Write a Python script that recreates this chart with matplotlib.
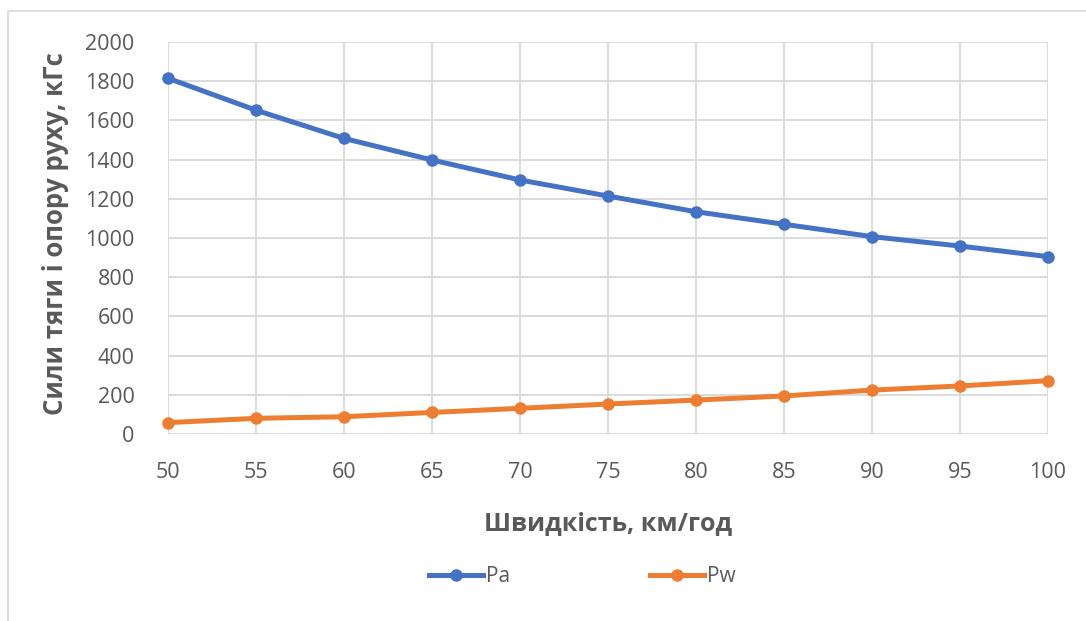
import matplotlib
matplotlib.use("Agg")
import matplotlib.pyplot as plt
from matplotlib.patches import Rectangle

# Speed, km/h
speed = [50, 55, 60, 65, 70, 75, 80, 85, 90, 95, 100]
# Traction force Pa, kgf
pa = [1815, 1652, 1508, 1398, 1296, 1214, 1134, 1070, 1007, 959, 905]
# Resistance force Pw, kgf
pw = [58, 80, 88, 110, 131, 153, 173, 194, 224, 245, 272]

y_ticks = [0, 200, 400, 600, 800, 1000, 1200, 1400, 1600, 1800, 2000]
x_ticks = speed

text_color = "#595959"
grid_color = "#D9D9D9"
blue = "#4472C4"
orange = "#ED7D31"

plt.rcParams["font.family"] = ["Open Sans", "DejaVu Sans"]

fig = plt.figure(figsize=(10.86, 6.21), dpi=100)
fig.patch.set_facecolor("white")

# chart frame
fig.add_artist(Rectangle((8 / 1086, -0.1), 1.2, 1 - 11 / 621 + 0.1,
                         transform=fig.transFigure, fill=False,
                         edgecolor="#D9D9D9", linewidth=1.2))

ax = fig.add_axes([168 / 1086, 1 - 434 / 621, (1048 - 168) / 1086, (434 - 42) / 621])
ax.set_xlim(50, 100)
ax.set_ylim(0, 2000)
ax.set_xticks(x_ticks)
ax.set_yticks(y_ticks)
ax.grid(True, color=grid_color, linewidth=1.3)
ax.set_axisbelow(True)
for s in ax.spines.values():
    s.set_visible(False)
ax.tick_params(length=0, colors=text_color, labelsize=15.5)
ax.tick_params(axis="x", pad=20)
ax.tick_params(axis="y", pad=24)

ax.plot(speed, pa, color=blue, linewidth=3.6, marker="o", markersize=8,
        label="Pa", clip_on=False, zorder=3)
ax.plot(speed, pw, color=orange, linewidth=3.6, marker="o", markersize=8,
        label="Pw", clip_on=False, zorder=3)

ax.set_xlabel("Швидкість, км/год", fontsize=18, fontweight="bold",
              color=text_color, labelpad=20)
ax.set_ylabel("Сили тяги і опору руху, кГс", fontsize=18.5, fontweight="bold",
              color=text_color)
ax.yaxis.set_label_coords(69 / 1086, 1 - 234 / 621, transform=fig.transFigure)

leg = fig.legend(loc="center", bbox_to_anchor=(582 / 1086, 1 - 577 / 621),
                 ncol=2, frameon=False, fontsize=15, handlelength=2.6,
                 handletextpad=0.15, columnspacing=6.7, labelcolor=text_color)

fig.savefig("out.png", dpi=100, facecolor="white")
